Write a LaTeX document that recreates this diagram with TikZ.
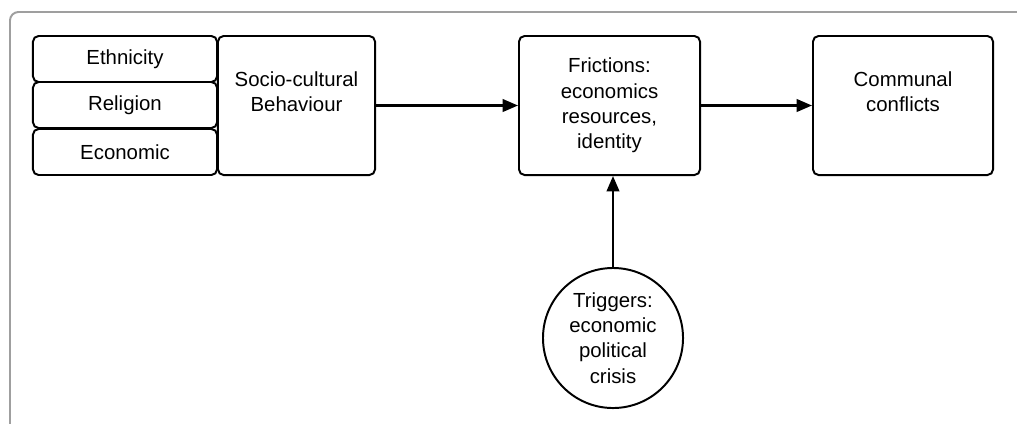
\documentclass[tikz,border=0pt]{standalone}
\usepackage{fontspec}
\setmainfont{Liberation Sans}
\usetikzlibrary{arrows.meta}

\begin{document}
\begin{tikzpicture}[x=0.025cm,y=-0.025cm,line width=1.4pt,>={Triangle[length=11pt,width=9pt]},
  box/.style={draw,rounded corners=4pt,align=center,inner sep=0pt,
    font=\fontsize{14.5}{18}\selectfont},
  factor/.style={box,minimum width=4.6cm,minimum height=1.15cm},
  arr/.style={->,line width=1.6pt}]
  \useasboundingbox (0,0) rectangle (1017,423);
  % frame, cut by the page
  \begin{scope}
    \clip (0,0) rectangle (1017,423);
    \draw[gray!75,rounded corners=6pt] (10,12) rectangle (1040,450);
  \end{scope}
  % the three factors
  \foreach \nm/\txt/\yy in {eth/Ethnicity/59,rel/Religion/105,eco/Economic/152}{
    \node[factor] (\nm) at (125,\yy) {\txt};
  }
  \node[box,minimum width=3.925cm,minimum height=3.475cm] (soc) at (296.5,105.5) {Socio-cultural\\Behaviour\\[2pt]};
  \node[box,minimum width=4.525cm,minimum height=3.475cm] (fric) at (609.5,105.5) {Frictions:\\economics\\resources,\\identity};
  \node[box,minimum width=4.5cm,minimum height=3.475cm] (comm) at (903,105.5) {Communal\\conflicts\\[2pt]};
  \node[box,circle,minimum size=3.5cm] (trig) at (613,338) {Triggers:\\economic\\political\\crisis};
  % connectors
  \draw[arr] (soc) -- (fric);
  \draw[arr] (fric) -- (comm);
  \draw[arr] (trig.north) -- (trig.north |- fric.south);
\end{tikzpicture}
\end{document}
